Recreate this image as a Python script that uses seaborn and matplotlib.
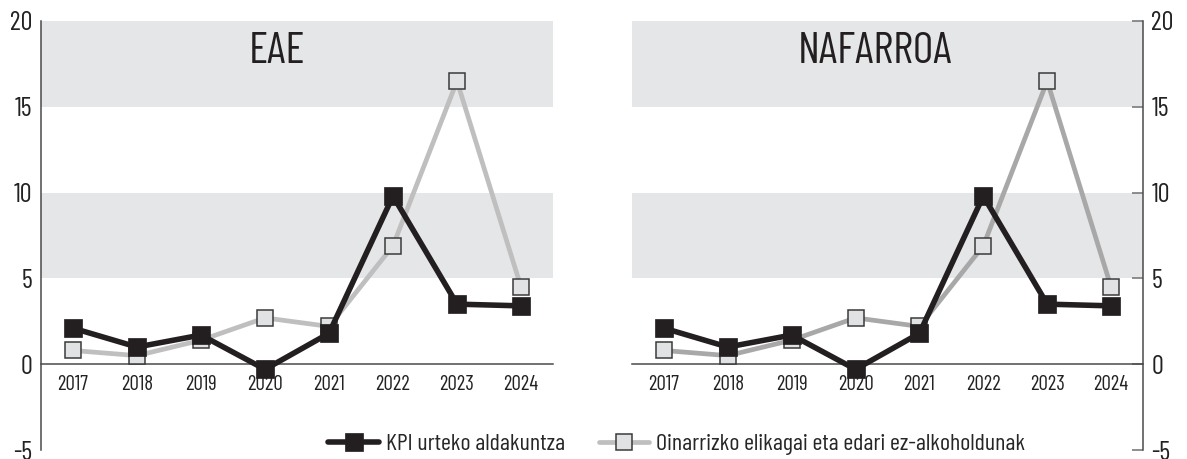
import numpy as np
import pandas as pd
import matplotlib
matplotlib.use("Agg")
import matplotlib.pyplot as plt
import seaborn as sns
from matplotlib.ticker import FixedLocator

# ---- data ----
years = ["2017", "2018", "2019", "2020", "2021", "2022", "2023", "2024"]
eae_kpi = [2.1, 1.0, 1.7, -0.3, 1.8, 9.8, 3.5, 3.4]
eae_food = [0.8, 0.5, 1.4, 2.7, 2.2, 6.9, 16.5, 4.5]
naf_kpi = [2.1, 1.0, 1.7, -0.3, 1.8, 9.8, 3.5, 3.4]
naf_food = [0.8, 0.5, 1.4, 2.7, 2.2, 6.9, 16.5, 4.5]
panel_titles = ["EAE", "NAFARROA"]
series_labels = ["KPI urteko aldakuntza", "Oinarrizko elikagai eta edari ez-alkoholdunak"]
y_ticks = [-5, 0, 5, 10, 15, 20]
bands = [(5, 10), (15, 20)]

sns.set_style("white")
plt.rcParams["font.family"] = ["Barlow Condensed", "Archivo Narrow", "DejaVu Sans"]

W, H = 1187, 459
fig = plt.figure(figsize=(W / 100, H / 100), dpi=100)

def px_axes(x0, x1, ytop, ybot):
    return fig.add_axes([x0 / W, 1 - ybot / H, (x1 - x0) / W, (ybot - ytop) / H])

ax_l = px_axes(41, 553, 21, 450)
ax_r = px_axes(632, 1143, 21, 450)

black = "#231f20"
band_col = "#e5e6e8"
gray_cols = ["#bfbfbf", "#a8a8a8"]
spine_col = "#4a4a4a"
tick_col = "#7a7a7a"

for i, (ax, kpi, food, title) in enumerate(
    [(ax_l, eae_kpi, eae_food, panel_titles[0]), (ax_r, naf_kpi, naf_food, panel_titles[1])]
):
    for lo, hi in bands:
        ax.axhspan(lo, hi, color=band_col, lw=0, zorder=0)
    df = pd.DataFrame({"year": years, "kpi": kpi, "food": food})
    sns.lineplot(data=df, x="year", y="food", ax=ax, color=gray_cols[i], lw=3.4,
                 marker="s", markersize=11.5, markerfacecolor="#e1e2e4",
                 markeredgecolor="#3a3a3a", markeredgewidth=1.1, zorder=3,
                 label=series_labels[1], legend=False)
    sns.lineplot(data=df, x="year", y="kpi", ax=ax, color=black, lw=4.0,
                 marker="s", markersize=12.5, markerfacecolor=black,
                 markeredgecolor=black, markeredgewidth=0.5, zorder=4,
                 label=series_labels[0], legend=False)
    ax.set_xlim(-0.5, len(years) - 0.5)
    ax.set_ylim(-5, 20)
    ax.set_xlabel("")
    ax.set_ylabel("")
    ax.set_yticks(y_ticks)
    ax.set_yticklabels([str(t) for t in y_ticks])
    ax.set_xticks(range(len(years)))
    ax.set_xticklabels(years)
    ax.xaxis.set_minor_locator(FixedLocator(np.arange(0.5, len(years), 1.0)))
    ax.tick_params(axis="x", which="major", length=0, pad=7.5, labelsize=15, labelcolor="#222")
    ax.tick_params(axis="x", which="minor", direction="in", length=6.5, width=1, color=tick_col)
    ax.tick_params(axis="y", direction="in", length=8, width=1.2, color=tick_col,
                   pad=6, labelsize=19, labelcolor="#222")
    ax.spines["bottom"].set_position(("data", 0))
    ax.spines["bottom"].set_color(spine_col)
    ax.spines["bottom"].set_linewidth(1.1)
    ax.spines["top"].set_visible(False)
    if i == 0:
        ax.spines["right"].set_visible(False)
        ax.spines["left"].set_color(spine_col)
        ax.spines["left"].set_linewidth(1.1)
    else:
        ax.spines["left"].set_visible(False)
        ax.spines["right"].set_visible(True)
        ax.spines["right"].set_color(spine_col)
        ax.spines["right"].set_linewidth(1.1)
        ax.yaxis.tick_right()
    ax.patch.set_alpha(0)
    tx = 0.46 if i == 0 else 0.476
    ax.text(tx, 0.928, title, transform=ax.transAxes, ha="center", va="center",
            fontsize=32, color=black)

handles, labels = ax_l.get_legend_handles_labels()
order = [labels.index(series_labels[0]), labels.index(series_labels[1])]
fig.legend([handles[k] for k in order], [labels[k] for k in order],
           loc="center", bbox_to_anchor=(677 / W, 1 - 444 / H), ncol=2, frameon=False,
           fontsize=17.3, handlelength=2.1, handletextpad=0.3, columnspacing=1.4,
           borderpad=0, borderaxespad=0)

fig.savefig("out.png", dpi=100)
